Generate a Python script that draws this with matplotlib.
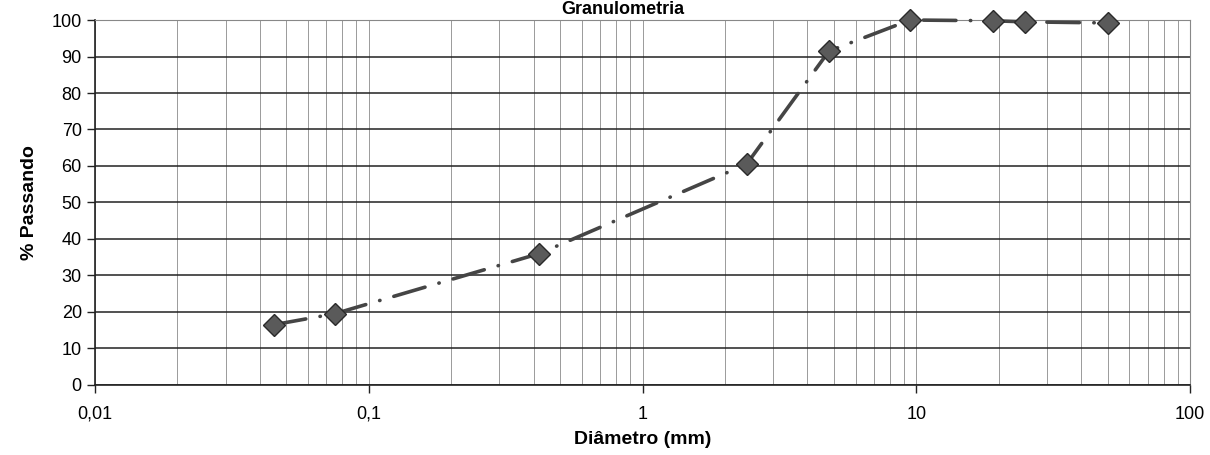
import numpy as np
import matplotlib
matplotlib.use('Agg')
import matplotlib.pyplot as plt
from matplotlib.ticker import FixedLocator, NullFormatter

# Curva granulometrica
diametro = [0.045, 0.075, 0.42, 2.4, 4.8, 9.5, 19, 25, 50]
passando = [16.5, 19.5, 36, 60.5, 91.5, 100, 99.8, 99.5, 99.2]

x_ticks = [0.01, 0.1, 1, 10, 100]
x_labels = ['0,01', '0,1', '1', '10', '100']
y_ticks = list(range(0, 101, 10))

plt.rcParams['font.family'] = ['Liberation Sans', 'DejaVu Sans']

fig = plt.figure(figsize=(12.1, 4.55), dpi=100)
ax = fig.add_axes([0.0785, 0.154, 0.905, 0.802])

ax.set_xscale('log')
ax.set_xlim(0.01, 100)
ax.set_ylim(0, 100)

# grade: horizontais escuras, verticais finas e cinzas
minors = [m * 10.0 ** e for e in range(-2, 2) for m in range(2, 10)]
ax.xaxis.set_minor_locator(FixedLocator(minors))
ax.xaxis.set_minor_formatter(NullFormatter())
ax.set_xticks(x_ticks)
ax.set_xticklabels(x_labels)
ax.set_yticks(y_ticks)
ax.grid(True, axis='y', which='major', color='#222222', linewidth=1.1)
ax.grid(True, axis='x', which='both', color='#8a8a8a', linewidth=0.6)

# curva de ligacao tracejada (traco-ponto)
ax.plot(diametro, passando, color='#454545', linewidth=2.6,
        dashes=(9, 4, 0.1, 4), dash_capstyle='round', zorder=3, clip_on=False)
ax.plot(diametro, passando, linestyle='none', marker='D', markersize=11,
        markerfacecolor='#5a5a5a', markeredgecolor='#2a2a2a', markeredgewidth=1.0,
        zorder=4, clip_on=False)

for s in ['top', 'right']:
    ax.spines[s].set_color('#888888')
    ax.spines[s].set_linewidth(0.8)
for s in ['left', 'bottom']:
    ax.spines[s].set_color('#222222')
    ax.spines[s].set_linewidth(1.2)

ax.tick_params(axis='both', which='major', labelsize=13, length=6, width=1, color='#222222')
ax.tick_params(axis='x', which='minor', length=0)
ax.tick_params(axis='x', which='major', pad=9)

ax.set_xlabel('Diâmetro (mm)', fontsize=14, fontweight='bold', labelpad=6)
ax.set_ylabel('% Passando', fontsize=14, fontweight='bold', labelpad=10)
fig.text(0.515, 0.998, 'Granulometria', fontsize=13, fontweight='bold', ha='center', va='top')

fig.savefig('out.png', dpi=100)
